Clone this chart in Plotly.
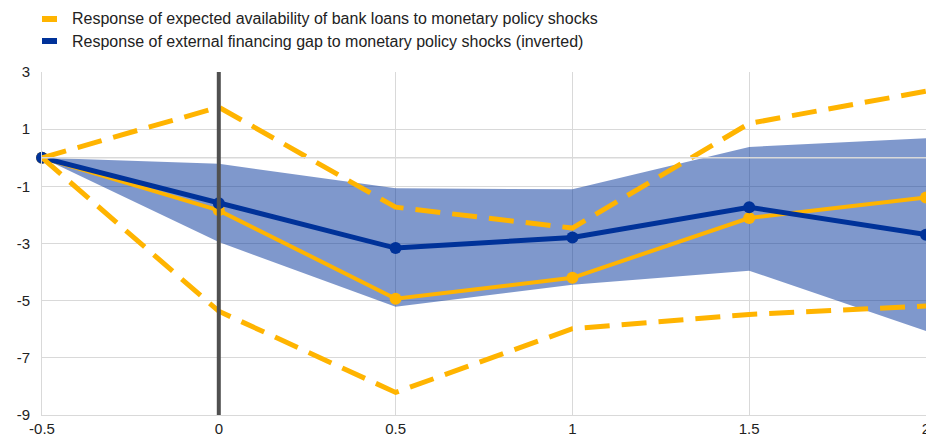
import plotly.graph_objects as go

# horizon (x) and series values
horizon = [-0.5, 0, 0.5, 1, 1.5, 2]
gap_inverted = [0, -1.59, -3.16, -2.79, -1.73, -2.69]
gap_band_upper = [0, -0.21, -1.07, -1.10, 0.38, 0.68]
gap_band_lower = [0, -2.95, -5.21, -4.44, -3.95, -6.06]
loans = [0, -1.84, -4.93, -4.20, -2.11, -1.39]
loans_upper = [0, 1.77, -1.73, -2.46, 1.20, 2.33]
loans_lower = [0, -5.37, -8.21, -5.98, -5.48, -5.19]

y_ticks = [-9, -7, -5, -3, -1, 1, 3]
y_labels = ["-9", "-7", "-5", "-3", "-1", "1", "3"]
x_ticks = [-0.5, 0, 0.5, 1, 1.5, 2]
x_labels = ["-0.5", "0", "0.5", "1", "1.5", "2"]

legend_labels = [
    "Response of expected availability of bank loans to monetary policy shocks",
    "Response of external financing gap to monetary policy shocks (inverted)",
]

YELLOW = "#FFB400"
BLUE = "#003299"
GRID = "#D9D9D9"

W, H = 926, 441
ML, MR, MT, MB = 42, 0, 72, 26


def px_x(p):
    return (p - ML) / (W - ML - MR)


def px_y(p):
    return (H - MB - p) / (H - MT - MB)


fig = go.Figure()

fig.add_trace(go.Scatter(x=horizon, y=gap_band_lower, mode="lines",
                         line=dict(width=0, color=BLUE), showlegend=False,
                         hoverinfo="skip"))
fig.add_trace(go.Scatter(x=horizon, y=gap_band_upper, mode="lines",
                         line=dict(width=0, color=BLUE), fill="tonexty",
                         fillcolor="rgba(0,50,153,0.5)", showlegend=False,
                         hoverinfo="skip"))

fig.add_trace(go.Scatter(x=horizon, y=loans, mode="lines+markers",
                         line=dict(color=YELLOW, width=4), cliponaxis=False,
                         marker=dict(color=YELLOW, size=12), showlegend=False))
fig.add_trace(go.Scatter(x=horizon, y=gap_inverted, mode="lines+markers",
                         line=dict(color=BLUE, width=5), cliponaxis=False,
                         marker=dict(color=BLUE, size=12), showlegend=False))
for band in (loans_upper, loans_lower):
    fig.add_trace(go.Scatter(x=horizon, y=band, mode="lines",
                             line=dict(color=YELLOW, width=5, dash="25px,12px"),
                             showlegend=False))

shapes = [
    # zero line drawn over the band
    dict(type="line", xref="paper", x0=0, x1=1, yref="y", y0=0, y1=0,
         line=dict(color=GRID, width=1.5), layer="above"),
    # vertical marker at horizon 0
    dict(type="line", xref="x", x0=0, x1=0, yref="paper", y0=0, y1=1,
         line=dict(color="#505050", width=4), layer="above"),
]

annotations = []
for i, (label, col) in enumerate(zip(legend_labels, [YELLOW, BLUE])):
    cy = 19 + 22 * i
    shapes.append(dict(type="rect", xref="paper", yref="paper",
                       x0=px_x(42), x1=px_x(57), y0=px_y(cy + 3), y1=px_y(cy - 3),
                       fillcolor=col, line=dict(width=0)))
    annotations.append(dict(text=label, xref="paper", yref="paper",
                            x=px_x(70), y=px_y(cy), xanchor="left", yanchor="middle",
                            showarrow=False, font=dict(size=16, color="#222222")))

fig.update_layout(
    width=W, height=H,
    margin=dict(l=ML, r=MR, t=MT, b=MB, autoexpand=False),
    paper_bgcolor="white", plot_bgcolor="white",
    font=dict(family="Arial, Liberation Sans, sans-serif", size=15, color="#222222"),
    showlegend=False,
    shapes=shapes,
    annotations=annotations,
    xaxis=dict(range=[-0.5, 2], tickvals=x_ticks, ticktext=x_labels,
               showgrid=True, gridcolor=GRID, gridwidth=1, zeroline=False,
               showline=True, linecolor=GRID, ticks="", automargin=False,
               ticklabeloverflow="allow", tickfont=dict(size=15)),
    yaxis=dict(range=[-9, 3], tickvals=y_ticks, ticktext=y_labels,
               showgrid=True, gridcolor=GRID, gridwidth=1, zeroline=False,
               showline=True, linecolor=GRID, ticks="", automargin=False,
               ticklabelstandoff=8, tickfont=dict(size=15)),
)

# drop the default page margin so the figure fills the window exactly
fig.write_html("out.html", config={"displayModeBar": False},
               post_script="document.body.style.margin='0';"
                           "document.body.style.overflow='hidden';")
